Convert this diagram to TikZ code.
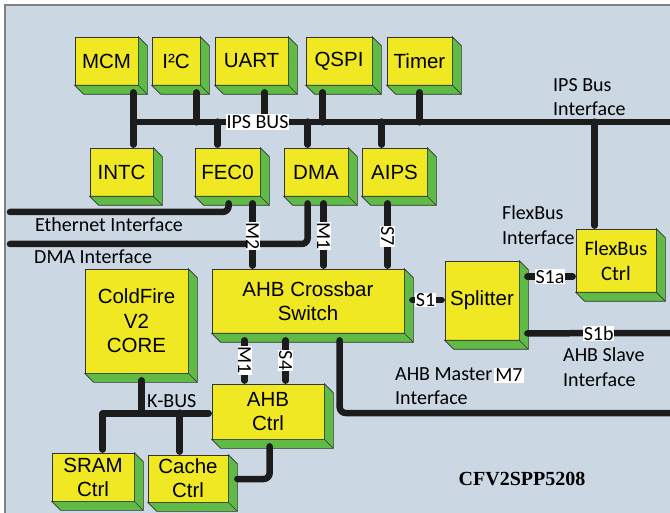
\documentclass[tikz,border=0pt]{standalone}
\usepackage{fontspec}
\setmainfont{Liberation Sans}
\newfontfamily\calfont{Carlito}
\newfontfamily\serfont{Liberation Serif}
\usetikzlibrary{calc}
\definecolor{bgc}{RGB}{203,216,228}
\definecolor{boxy}{RGB}{239,232,35}
\definecolor{boxg}{RGB}{95,186,70}
\definecolor{wirec}{RGB}{28,28,28}
\newcommand\mkblock[7][]{%
  \node[blk,#1,minimum width=#5pt,minimum height=#6pt] (#2) at (#3,#4) {#7};
  \draw[boxg side] (#2.north east) -- ++(9,9) -- ($(#2.south east)+(9,9)$) -- ($(#2.south west)+(9,9)$) -- (#2.south west) -- (#2.south east) -- cycle;
  \draw[black!80,line width=0.7pt] (#2.south east) -- ++(9,9);
}
\begin{document}
\begin{tikzpicture}[x=1pt,y=-1pt,
  blk/.style={draw=black!80, line width=0.7pt, fill=boxy, inner sep=0pt, align=center,
    font=\fontsize{20.5}{24}\selectfont},
  boxg side/.style={fill=boxg, draw=black!80, line width=0.7pt, line join=miter},
  wire/.style={line width=6.5pt, draw=wirec, line cap=round, line join=round},
  tag/.style={fill=white, inner sep=0.6pt, font=\calfont\fontsize{20}{22}\selectfont},
  lbl/.style={font=\calfont\fontsize{20}{24.5}\selectfont, align=left, inner sep=0pt, anchor=west},
]
\useasboundingbox (0,0) rectangle (670,513);
\fill[bgc] (5,5) rectangle (675,520);
\draw[gray, line width=1.5pt] (5,520) -- (5,5) -- (675,5);

% blocks
\mkblock{mcm}{106.5}{61}{63}{48}{MCM}
\mkblock{i2c}{176}{61}{48}{48}{I²C}
\mkblock{uart}{251.5}{61}{73}{48}{UART}
\mkblock{qspi}{339}{61}{66}{48}{QSPI}
\mkblock{timer}{419.5}{61}{65}{48}{Timer}
\mkblock{intc}{121.5}{172}{63}{48}{INTC}
\mkblock{fec0}{227.5}{172}{65}{48}{FEC0}
\mkblock{dma}{316}{172}{64}{48}{DMA}
\mkblock{aips}{394.5}{172}{65}{48}{AIPS}
\mkblock[font=\calfont\fontsize{20.5}{25}\selectfont]{flex}{616}{260.5}{80}{63}{\raisebox{-3pt}{\parbox{70pt}{\centering FlexBus\\Ctrl}}}
\mkblock{xbar}{308}{301}{192}{64}{AHB Crossbar\\Switch}
\mkblock{split}{482}{300.5}{74}{79}{Splitter}
\mkblock[font=\fontsize{20.5}{24.5}\selectfont]{cf}{136.5}{321}{103}{104}{ColdFire\\V2\\CORE}
\mkblock{ahb}{268}{411.5}{112}{55}{AHB\\Ctrl}
\mkblock{sram}{93}{477}{82}{48}{SRAM\\Ctrl}
\mkblock{cache}{188}{478.5}{80}{47}{Cache\\Ctrl}

% IPS bus
\coordinate (jA) at (133,122);
\coordinate (ipsR) at (676,122);
\draw[wire] (jA) -- (ipsR);
\draw[wire] ($(mcm.south east)+(-5,7)$) -- ($(intc.north east)+(-20,-3)$);
\draw[wire] ($(i2c.south east)+(-4,7)$) -- ++(0,30);
\draw[wire] ($(uart.south west)+(50,7)$) -- ++(0,30);
\draw[wire] ($(qspi.south west)+(17,7)$) -- ++(0,30);
\draw[wire] ($(timer.south)+(0,7)$) -- ++(0,30);
\draw[wire] ($(fec0.north west)+(23,-3)$) -- ++(0,-23);
\draw[wire] ($(dma.north west)+(24,-3)$) -- ++(0,-23);
\draw[wire] ($(aips.north west)+(20,-3)$) -- ++(0,-23);
\draw[wire] ($(flex.north west)+(19,-3)$) -- ++(0,-104);

% side interfaces
\coordinate (ethL) at (10,212);
\coordinate (dmaL) at (10,244);
\draw[wire, rounded corners=6pt] ($(fec0.south west)+(34,7)$) |- (ethL);
\draw[wire, rounded corners=6pt] ($(dma.south west)+(24,7)$) |- (dmaL);

% masters / slaves to crossbar
\draw[wire] ($(fec0.south west)+(58,7)$) -- node[tag, rotate=-90, pos=0.52] {M2} ($(xbar.north west)+(41,-3)$);
\draw[wire] ($(dma.south west)+(40,7)$) -- node[tag, rotate=-90, pos=0.52] {M1} ($(xbar.north west)+(112,-3)$);
\draw[wire] ($(aips.south west)+(26,7)$) -- node[tag, rotate=-90, pos=0.53] {S7} ($(xbar.north west)+(176,-3)$);

% splitter
\draw[wire] ($(xbar.east)+(8,-1)$) -- node[tag, pos=0.45] {S1} ($(split.west)+(-3,-0.5)$);
\draw[wire] ($(split.north east)+(8,16)$) -- node[tag, pos=0.5] {S1a} ($(flex.north west)+(-3,48)$);
\coordinate (s1bR) at (676,333);
\draw[wire] ($(split.south east)+(8,-7)$) -- node[tag, pos=0.48] {S1b} (s1bR);

% AHB master interface
\coordinate (mR) at (676,413);
\draw[wire, rounded corners=6pt] ($(xbar.south west)+(128,7)$) |- (mR);

% crossbar to AHB ctrl
\draw[wire] ($(xbar.south west)+(33,7)$) -- node[tag, rotate=-90, pos=0.5] {M1} ($(ahb.north west)+(33,-3)$);
\draw[wire] ($(xbar.south west)+(74,7)$) -- node[tag, rotate=-90, pos=0.5] {S4} ($(ahb.north west)+(74,-3)$);

% K-BUS
\draw[wire] ($(cf.south west)+(57,7)$) -- ++(0,33);
\draw[wire] ($(sram.north west)+(51,-3)$) |- ($(ahb.south west)+(-3,-26)$);
\draw[wire] ($(cache.north west)+(32,-3)$) -- ++(0,-39);
\draw[wire, rounded corners=6pt] ($(ahb.south west)+(58,7)$) |- ($(cache.east)+(9,0.5)$);

% IPS BUS tag
\node[tag, inner sep=1pt, font=\calfont\fontsize{20}{24}\selectfont] (ipsbus) at (257.5,122) {IPS BUS};

% text labels
\node[lbl] (ipsif) at (553,97) {IPS Bus\\Interface};
\node[lbl] (flexif) at (502,225) {FlexBus\\Interface};
\node[lbl] (ethif) at (35,225) {Ethernet Interface};
\node[lbl] (dmaif) at (34,257) {DMA Interface};
\node[lbl] (slaveif) at (563,367) {AHB Slave\\Interface};
\node[lbl] (masterif) at (395,386) {AHB Master\\Interface};
\node[tag, font=\calfont\fontsize{20}{24}\selectfont, inner sep=1pt] (m7) at (509,375.5) {M7};
\node[lbl] (kbus) at (147,401) {K-BUS};
\node[font=\serfont\bfseries\fontsize{20}{22}\selectfont, inner sep=0pt] (chip) at (522,479) {CFV2SPP5208};
\end{tikzpicture}
\end{document}
